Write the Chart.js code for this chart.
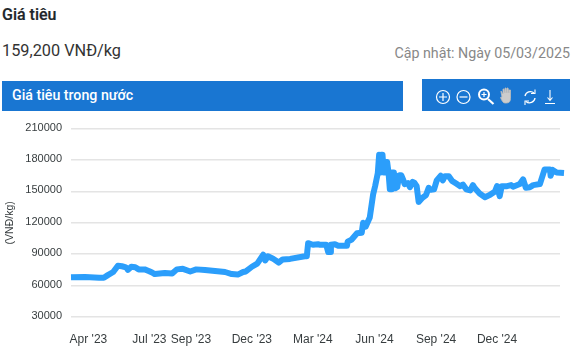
<!DOCTYPE html>
<html>
<head>
<meta charset="utf-8">
<title>Giá tiêu</title>
<script src="https://cdn.jsdelivr.net/npm/chart.js@4/dist/chart.umd.min.js"></script>
<style>
    html, body { margin: 0; padding: 0; background: #fff; }
    body { width: 580px; height: 358px; position: relative; overflow: hidden; font-family: Roboto, sans-serif; }
    .abs { position: absolute; white-space: nowrap; }
    #name { left: 2px; top: 6px; font-size: 16px; font-weight: 500; line-height: 18px; color: #212529; -webkit-text-stroke: .2px #212529; }
    #price { left: 2px; top: 41px; font-size: 16.300px; line-height: 20px; color: #333; }
    #updated { right: 10px; top: 44px; font-size: 14.250px; line-height: 18px; color: #888; }
    #bar-title { left: 2px; top: 81px; width: 391px; height: 30px; padding-left: 10px; background: #1976d2; color: #fff; font-size: 14.200px; font-weight: 500; line-height: 28px; }
    #bar-tools { left: 422px; top: 79px; width: 148px; height: 32px; background: #1976d2; }
    #chart { position: absolute; left: 0; top: 115px; }
</style>
</head>
<body>
<div class="abs" id="name">Giá tiêu</div>
<div class="abs" id="price">159,200 VNĐ/kg</div>
<div class="abs" id="updated">Cập nhật: Ngày 05/03/2025</div>
<div class="abs" id="bar-title">Giá tiêu trong nước</div>
<div class="abs" id="bar-tools">
    <svg width="148" height="32" fill="none" stroke="#fff" stroke-width="1.2">
        <circle cx="21" cy="18" r="6.5"/><path d="M17 18h8M21 14v8"/>
        <circle cx="41.5" cy="18" r="6.5"/><path d="M37.5 18h8"/>
        <circle cx="62" cy="15.5" r="5" stroke-width="2"/><path d="M66 20l5.5 5" stroke-width="2.2"/><path d="M59.5 15.5h5M62 13v5"/>
        <path d="M80 18l-1-5v-1l2 3v-5h1l1 4v-5h1l1 5v-5h1l1 5v-3h1.5v8.5c0 3-1.5 4.5-4 4.5h-1.5c-2 0-3-2-4.5-5.5z" fill="#ccc" stroke="#bbb" stroke-width=".8"/>
        <path d="M103 17a5.500 5.500 0 0 1 9-3M113 19a5.500 5.500 0 0 1-9 3.500" stroke-width="1.3"/><path d="M113 10.500v4h-4M103 26v-4h4" stroke-width="1.1"/>
        <path d="M128 11v10M125.500 18.500l2.500 3 2.500-3M123 24.500h10" stroke-width="1.1"/>
    </svg>
</div>
<canvas id="chart" width="580" height="243"></canvas>
<script>
// so ngay tinh tu dau chuoi (dau thang 3/2023), doc tu hinh
const days = [0, 21, 42, 49, 55, 63, 70, 76, 82, 85, 90, 96, 101, 110, 116, 121, 125, 140, 151, 158, 167, 178,
    187, 200, 215, 230, 240, 249, 257, 261, 270, 278, 287, 290, 294, 301, 310, 316, 327, 349, 352, 354,
    361, 369, 372, 381, 382, 384, 387, 388, 394, 399, 412, 413, 419, 427, 434, 436, 440, 446, 451, 454,
    458, 460, 462, 463, 465, 467, 469, 470, 472, 474, 476, 478, 479, 482, 484, 487, 490, 493, 496, 498, 503, 506, 510, 513, 516,
    519, 524, 530, 534, 537, 542, 546, 552, 555, 558, 564, 569, 575, 581, 585, 590, 596, 600, 603, 610,
    618, 625, 633, 636, 640, 643, 651, 657, 660, 670, 675, 679, 685, 690, 700, 707, 715, 716, 719, 725, 736];
const prices = [68000, 68300, 67500, 67500, 70000, 73000, 79000, 78500, 77500, 75000, 78000, 77500, 75500, 75500, 74000, 72500, 71000, 72000, 71500, 75500, 76000, 73500,
    75500, 75000, 74000, 73000, 71000, 70500, 73000, 73500, 78000, 81000, 89500, 84000, 88000, 86000, 82000, 85000, 85500, 88000, 88000, 100500,
    99000, 99500, 99000, 99000, 99000, 92000, 92000, 99000, 99500, 98000, 98000, 102000, 104000, 110000, 110500, 120000, 116500, 125000, 147000, 155000,
    167500, 185000, 168000, 185000, 185000, 168000, 178000, 168000, 178000, 168000, 152000, 152000, 168000, 168000, 153000, 154000, 165500, 165500, 161000, 157000, 158000, 154000, 159000, 158000, 155000,
    140000, 143500, 146500, 153500, 151500, 152000, 160500, 165000, 160500, 164500, 164500, 160000, 157500, 155000, 156500, 152000, 151000, 156000, 153000, 148000,
    144500, 146500, 150000, 155000, 145500, 155000, 155000, 156000, 154500, 157000, 161500, 153500, 154000, 156000, 157000, 171000, 171000, 165000, 170500, 168000, 167500];
const tickDays = [26, 117, 179, 270, 361, 453, 545, 636];
const tickLabels = ["Apr '23", "Jul '23", "Sep '23", "Dec '23", "Mar '24", "Jun '24", "Sep '24", "Dec '24"];
const yTicks = [30000, 60000, 90000, 120000, 150000, 180000, 210000];

new Chart(document.getElementById('chart').getContext('2d'), {
    type: 'line',
    data: {
        datasets: [{
            label: 'Giá tiêu',
            data: days.map((d, i) => ({ x: d, y: prices[i] })),
            borderColor: '#2b9efb',
            borderWidth: 6,
            borderJoinStyle: 'round',
            pointRadius: 0,
            tension: 0,
            fill: false,
            clip: false
        }]
    },
    options: {
        responsive: false,
        animation: false,
        layout: { padding: { top: 13.6, right: 20, bottom: 0, left: 0 } },
        plugins: { legend: { display: false }, tooltip: { enabled: false } },
        scales: {
            x: {
                type: 'linear',
                min: 0,
                max: 730,
                grid: { display: false },
                border: { display: false },
                afterBuildTicks: axis => { axis.ticks = tickDays.map(v => ({ value: v })); },
                afterFit: axis => { axis.height = 41; axis.paddingLeft = 0; axis.paddingRight = 0; },
                ticks: {
                    autoSkip: false,
                    maxRotation: 0,
                    padding: 7,
                    color: '#373d3f',
                    font: { family: 'Liberation Sans', size: 12 },
                    callback: v => tickLabels[tickDays.indexOf(v)]
                }
            },
            y: {
                min: 30000,
                max: 210000,
                grid: { color: '#e4e4e4', lineWidth: 1.5, drawTicks: false },
                border: { display: false },
                afterBuildTicks: axis => { axis.ticks = yTicks.map(v => ({ value: v })); },
                afterFit: axis => { axis.width = 71; axis.paddingTop = 0; axis.paddingBottom = 0; },
                title: {
                    display: true,
                    text: '(VNĐ/kg)',
                    color: '#373d3f',
                    padding: { top: 4, bottom: 0 },
                    font: { family: 'Liberation Sans', size: 10.5, weight: 'normal' }
                },
                ticks: {
                    padding: 9,
                    labelOffset: -1,
                    color: '#373d3f',
                    font: { family: 'Liberation Sans', size: 11 },
                    callback: v => String(v)
                }
            }
        }
    }
});
</script>
</body>
</html>
